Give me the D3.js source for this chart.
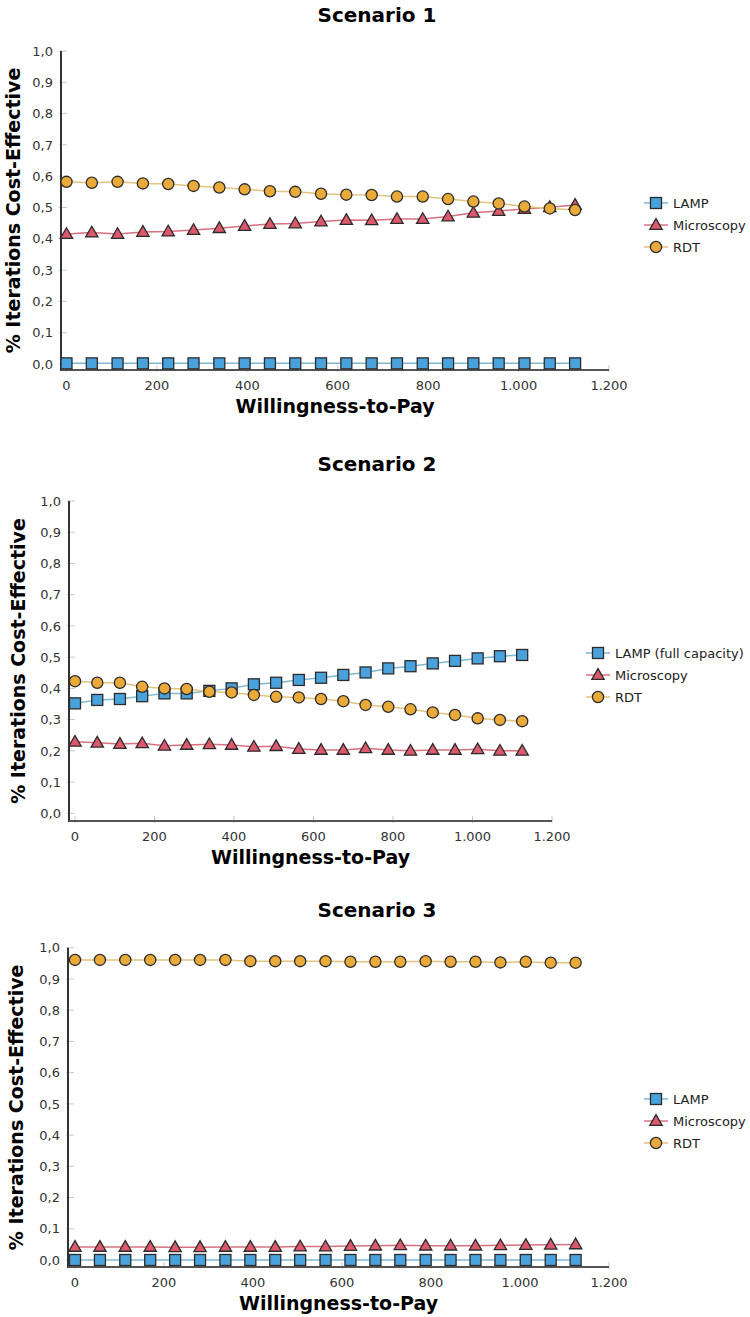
<!DOCTYPE html>
<html><head><meta charset="utf-8">
<script src="https://cdn.jsdelivr.net/npm/d3@7/dist/d3.min.js"></script>
<style>
html,body{margin:0;padding:0;background:#fff;}
svg{display:block;font-family:"DejaVu Sans",Verdana,sans-serif;}
</style></head>
<body>
<svg id="chart" width="750" height="1317"></svg>
<script>
// ---- data ----
const wtp = [0, 56, 113, 169, 225, 281, 338, 394, 450, 506, 563, 619, 675, 731, 788, 844, 900, 956, 1013, 1069, 1125];
const xTicks = [0, 200, 400, 600, 800, 1000, 1200];
const yTicks = [0, 0.1, 0.2, 0.3, 0.4, 0.5, 0.6, 0.7, 0.8, 0.9, 1.0];
const titles = ["Scenario 1", "Scenario 2", "Scenario 3"];
const xTitle = "Willingness-to-Pay";
const yTitle = "% Iterations Cost-Effective";
const seriesNames1 = ["LAMP", "Microscopy", "RDT"];
const seriesNames2 = ["LAMP (full capacity)", "Microscopy", "RDT"];
const seriesNames3 = ["LAMP", "Microscopy", "RDT"];

const s1LAMP = [0.002,0.002,0.002,0.002,0.002,0.002,0.002,0.002,0.002,0.002,0.002,0.002,0.002,0.002,0.002,0.002,0.002,0.002,0.002,0.002,0.002];
const s1Micro = [0.415,0.420,0.415,0.422,0.423,0.428,0.434,0.441,0.447,0.449,0.455,0.460,0.459,0.463,0.463,0.471,0.483,0.489,0.495,0.501,0.508];
const s1RDT = [0.582,0.579,0.582,0.577,0.575,0.569,0.564,0.558,0.552,0.550,0.544,0.541,0.540,0.535,0.535,0.527,0.519,0.513,0.503,0.497,0.492];

const s2LAMP = [0.352,0.363,0.366,0.375,0.384,0.384,0.392,0.400,0.413,0.418,0.427,0.434,0.443,0.451,0.464,0.471,0.480,0.488,0.496,0.503,0.507];
const s2Micro = [0.229,0.226,0.222,0.224,0.216,0.219,0.221,0.219,0.213,0.215,0.206,0.203,0.203,0.208,0.203,0.200,0.203,0.203,0.205,0.200,0.200];
const s2RDT = [0.423,0.418,0.418,0.405,0.400,0.398,0.389,0.387,0.379,0.373,0.371,0.366,0.359,0.347,0.341,0.333,0.323,0.315,0.304,0.299,0.295];

const s3LAMP = [0,0,0,0,0,0,0,0,0,0,0,0,0,0,0,0,0,0,0,0,0];
const s3Micro = [0.042,0.042,0.042,0.042,0.041,0.041,0.042,0.042,0.042,0.043,0.043,0.045,0.046,0.047,0.046,0.046,0.046,0.047,0.048,0.049,0.050];
const s3RDT = [0.961,0.961,0.961,0.961,0.961,0.961,0.961,0.957,0.957,0.957,0.957,0.955,0.955,0.955,0.957,0.955,0.955,0.953,0.955,0.952,0.952];

// ---- styles ----
const styles = [
  {fill:"#4aa2dc", line:"#7db9d3", shape:"square"},
  {fill:"#dc586c", line:"#d8707f", shape:"triangle"},
  {fill:"#e9aa3a", line:"#e3c37f", shape:"circle"}
];

const panels = [
  {title:titles[0], names:seriesNames1, data:[s1LAMP,s1Micro,s1RDT],
   titleY:21.7, axisX:61, x0:66.5, x1:609, y0:364, y1:51, axisY:370, yTitleX:20, legX:656, legY:203},
  {title:titles[1], names:seriesNames2, data:[s2LAMP,s2Micro,s2RDT],
   titleY:470.7, axisX:69, x0:75, x1:552, y0:813.3, y1:501, axisY:821, yTitleX:25, legX:598, legY:653},
  {title:titles[2], names:seriesNames3, data:[s3LAMP,s3Micro,s3RDT],
   titleY:916.7, axisX:68, x0:75, x1:609, y0:1260, y1:947.7, axisY:1267, yTitleX:23, legX:656, legY:1099}
];

const loc = d3.formatLocale({decimal:",", thousands:".", grouping:[3], currency:["",""]});
const fmtY = loc.format(".1f");
const fmtX = loc.format(",.0f");

const svg = d3.select("#chart");

function marker(g, shape, fill, cx, cy){
  if(shape==="circle"){
    g.append("circle").attr("cx",cx).attr("cy",cy).attr("r",5.6)
      .attr("fill",fill).attr("stroke","#2b2b2b").attr("stroke-width",1.3);
  } else if(shape==="square"){
    g.append("rect").attr("x",cx-5.5).attr("y",cy-5.5).attr("width",11).attr("height",11)
      .attr("fill",fill).attr("stroke","#2b2b2b").attr("stroke-width",1.3);
  } else {
    g.append("path").attr("d", d3.symbol(d3.symbolTriangle, 66)())
      .attr("transform",`translate(${cx},${cy+0.8})`)
      .attr("fill",fill).attr("stroke","#2b2b2b").attr("stroke-width",1.3);
  }
}

panels.forEach(p => {
  const g = svg.append("g");
  const x = d3.scaleLinear().domain([0,1200]).range([p.x0,p.x1]);
  const y = d3.scaleLinear().domain([0,1]).range([p.y0,p.y1]);

  // title
  g.append("text").attr("x",377).attr("y",p.titleY).attr("text-anchor","middle")
    .attr("font-size",20).attr("font-weight","bold").attr("fill","#000").text(p.title);

  // y axis ticks & labels
  yTicks.forEach(t => {
    g.append("line").attr("x1",p.axisX-2).attr("x2",p.axisX+6).attr("y1",y(t)).attr("y2",y(t))
      .attr("stroke","#c8c8c8").attr("stroke-width",1);
    g.append("text").attr("x",p.axisX-8).attr("y",y(t)).attr("dy","0.36em")
      .attr("text-anchor","end").attr("font-size",13).attr("fill","#333").text(fmtY(t));
  });
  // x ticks & labels
  xTicks.forEach(t => {
    g.append("line").attr("x1",x(t)).attr("x2",x(t)).attr("y1",p.axisY-5).attr("y2",p.axisY+2)
      .attr("stroke","#c8c8c8").attr("stroke-width",1);
    g.append("text").attr("x",x(t)).attr("y",p.axisY+20)
      .attr("text-anchor","middle").attr("font-size",13).attr("fill","#333").text(fmtX(t));
  });
  // axis lines
  g.append("line").attr("x1",p.axisX).attr("x2",p.axisX).attr("y1",y(1)).attr("y2",p.axisY+1)
    .attr("stroke","#333").attr("stroke-width",2);
  g.append("line").attr("x1",p.axisX).attr("x2",x(1200)).attr("y1",p.axisY).attr("y2",p.axisY)
    .attr("stroke","#555").attr("stroke-width",2);

  // axis titles
  g.append("text").attr("x",(p.axisX+x(1200))/2).attr("y",p.axisY+43)
    .attr("text-anchor","middle").attr("font-size",19).attr("font-weight","bold").attr("fill","#000").text(xTitle);
  g.append("text").attr("transform",`translate(${p.yTitleX},${(y(1)+p.axisY)/2}) rotate(-90)`)
    .attr("text-anchor","middle").attr("font-size",19).attr("font-weight","bold").attr("fill","#000").text(yTitle);

  // series
  p.data.forEach((vals,si) => {
    const st = styles[si];
    const line = d3.line().x((d,i)=>x(wtp[i])).y(d=>y(d));
    g.append("path").datum(vals).attr("d",line).attr("fill","none")
      .attr("stroke",st.line).attr("stroke-width",1.5);
  });
  p.data.forEach((vals,si) => {
    const st = styles[si];
    const mg = g.append("g");
    vals.forEach((v,i) => marker(mg, st.shape, st.fill, x(wtp[i]), y(v)));
  });

  // legend
  p.names.forEach((n,si) => {
    const st = styles[si];
    const ly = p.legY + si*22;
    g.append("line").attr("x1",p.legX-12).attr("x2",p.legX+12).attr("y1",ly).attr("y2",ly)
      .attr("stroke",st.line).attr("stroke-width",1.5);
    marker(g, st.shape, st.fill, p.legX, ly);
    g.append("text").attr("x",p.legX+17).attr("y",ly).attr("dy","0.36em")
      .attr("font-size",13).attr("fill","#222").text(n);
  });
});
</script>
</body></html>
